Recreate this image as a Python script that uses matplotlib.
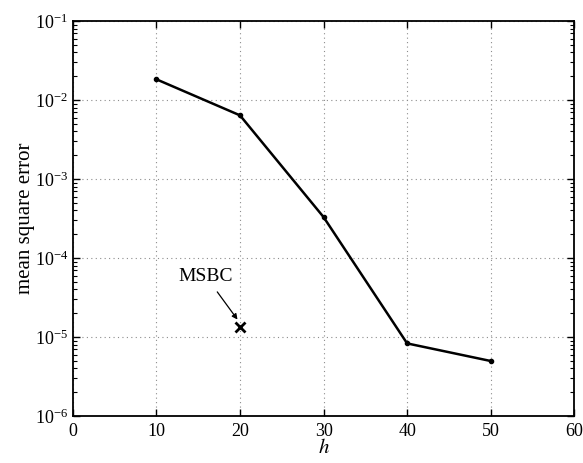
import matplotlib
matplotlib.use("Agg")
import matplotlib.pyplot as plt
from matplotlib.ticker import LogLocator, NullFormatter

plt.rcParams['font.family'] = ['Liberation Serif', 'DejaVu Serif']
plt.rcParams['mathtext.fontset'] = 'stix'

h_values = [10, 20, 30, 40, 50]
mse_values = [1.83e-2, 6.4e-3, 3.3e-4, 8.3e-6, 4.97e-6]
msbc_h = [20]
msbc_mse = [1.33e-5]
x_ticks = [0, 10, 20, 30, 40, 50, 60]

fig = plt.figure(figsize=(5.83, 4.63), dpi=100)
ax = fig.add_axes([0.125, 0.1015, 0.86, 0.853])

ax.plot(h_values, mse_values, color='black', linewidth=1.8, marker='o', markersize=3)
ax.plot(msbc_h, msbc_mse, linestyle='none', color='black', marker='x', markersize=7, markeredgewidth=2)
ax.annotate('MSBC', xy=(msbc_h[0] - 0.3, msbc_mse[0] * 1.25), xytext=(15.9, 5.9e-5),
            ha='center', va='center', fontsize=14,
            arrowprops=dict(arrowstyle='-|>', color='black', lw=0.9, mutation_scale=8, shrinkA=4, shrinkB=0))

ax.set_yscale('log')
ax.set_xlim(0, 60)
ax.set_ylim(1e-6, 1e-1)
ax.set_xticks(x_ticks)
ax.yaxis.set_major_locator(LogLocator(base=10, numticks=10))
ax.yaxis.set_minor_locator(LogLocator(base=10, subs=range(2, 10), numticks=20))
ax.yaxis.set_minor_formatter(NullFormatter())

ax.grid(True, which='major', linestyle=(0, (1, 3)), color='#8c8c8c', linewidth=0.8)
ax.tick_params(which='both', direction='in', top=True, right=True, labelsize=13)
ax.tick_params(which='major', length=5, width=1)
ax.tick_params(which='minor', length=3, width=0.8)
ax.tick_params(axis='x', which='major', pad=5)
for s in ax.spines.values():
    s.set_linewidth(1.3)

ax.set_xlabel('$h$', fontsize=15, labelpad=-1)
ax.set_ylabel('mean square error', fontsize=15, labelpad=0)

fig.savefig('out.png', dpi=100)
